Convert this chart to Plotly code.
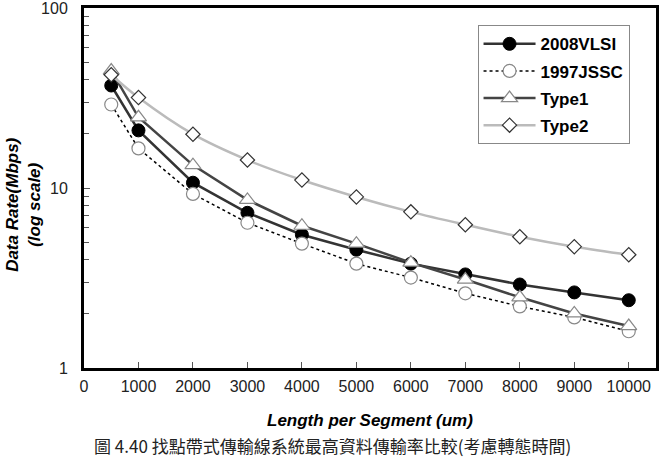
import plotly.graph_objects as go

lengths = [500, 1000, 2000, 3000, 4000, 5000, 6000, 7000, 8000, 9000, 10000]
vlsi2008 = [37.1, 20.9, 10.7, 7.28, 5.50, 4.54, 3.80, 3.31, 2.91, 2.63, 2.38]
jssc1997 = [29.1, 16.6, 9.27, 6.41, 4.91, 3.80, 3.18, 2.60, 2.20, 1.91, 1.60]
type1 = [44.9, 24.7, 13.4, 8.59, 6.17, 4.91, 3.85, 3.10, 2.47, 2.01, 1.71]
type2 = [42.6, 31.8, 19.9, 14.3, 11.07, 8.92, 7.37, 6.25, 5.36, 4.72, 4.26]

x_ticks = [0, 1000, 2000, 3000, 4000, 5000, 6000, 7000, 8000, 9000, 10000]
y_ticks = [1, 10, 100]
y_minor = [2, 3, 4, 5, 6, 7, 8, 9, 20, 30, 40, 50, 60, 70, 80, 90]
caption = "圖 4.40 找點帶式傳輸線系統最高資料傳輸率比較(考慮轉態時間)"

fig = go.Figure()
fig.add_trace(go.Scatter(
    x=lengths, y=vlsi2008, name="2008VLSI", mode="lines+markers", legendgroup="a",
    line=dict(color="#333333", width=2.5),
    marker=dict(symbol="circle", size=13, color="black", line=dict(color="black", width=1))))
fig.add_trace(go.Scatter(
    x=lengths, y=jssc1997, name="1997JSSC", mode="lines+markers", legendgroup="b",
    line=dict(color="black", width=1.5, dash="dot"),
    marker=dict(symbol="circle", size=13, color="white", line=dict(color="#888888", width=1.2))))
fig.add_trace(go.Scatter(
    x=lengths, y=type1, name="Type1", mode="lines+markers", legendgroup="c",
    line=dict(color="#444444", width=2.5),
    marker=dict(symbol="triangle-up", size=14, color="white", line=dict(color="#888888", width=1.2))))
fig.add_trace(go.Scatter(
    x=lengths, y=type2, name="Type2", mode="lines+markers", legendgroup="d",
    line=dict(color="#bbbbbb", width=2.5, shape="spline"),
    marker=dict(symbol="diamond", size=11, color="white", line=dict(color="#333333", width=1.2))))

sans = "Liberation Sans, Arial, sans-serif"
axis_font = dict(family=sans, size=16, color="#222222")

fig.update_layout(
    width=665, height=472,
    margin=dict(l=84, r=9, t=8, b=104),
    paper_bgcolor="white", plot_bgcolor="white",
    font=dict(family=sans, color="black"),
    showlegend=True,
    legend=dict(x=0.688, y=0.952, xanchor="left", yanchor="top",
                bgcolor="white", bordercolor="#888888", borderwidth=1,
                font=dict(family=sans, size=17, color="black", weight="bold"),
                tracegroupgap=2, itemwidth=52),
    xaxis=dict(range=[0, 10500], tickvals=x_ticks, ticktext=[str(v) for v in x_ticks],
               ticks="inside", ticklen=6, tickcolor="#555555", tickwidth=1,
               showgrid=False, zeroline=False, automargin=False,
               showline=True, linecolor="black", linewidth=3, mirror=True,
               tickfont=axis_font, ticklabelstandoff=2, ticklabeloverflow="allow"),
    yaxis=dict(type="log", range=[0, 2], tickvals=y_ticks, ticktext=["1", "10", "100"],
               ticks="inside", ticklen=6, tickcolor="#555555", tickwidth=1,
               minor=dict(tickvals=y_minor, ticks="inside", ticklen=5, tickcolor="#555555",
                          tickwidth=1, showgrid=False),
               showgrid=False, zeroline=False, automargin=False,
               showline=True, linecolor="black", linewidth=3, mirror=True,
               tickfont=axis_font, ticklabelstandoff=10, ticklabeloverflow="allow"),
    annotations=[
        dict(text="<b><i>Data Rate(Mbps)</i></b><br><b><i>(log scale)</i></b>",
             xref="paper", yref="paper", x=-0.105, y=0.453, xanchor="center", yanchor="middle",
             textangle=-90, showarrow=False,
             font=dict(family=sans, size=17, color="black")),
        dict(text="<b><i>Length per Segment (um)</i></b>",
             xref="paper", yref="paper", x=0.5, y=-0.146, xanchor="center", yanchor="middle",
             showarrow=False, font=dict(family=sans, size=17, color="black")),
        dict(text=caption, xref="paper", yref="paper", x=0.434, y=-0.215,
             xanchor="center", yanchor="middle", showarrow=False,
             font=dict(family="Noto Sans CJK TC, sans-serif", size=17, color="#222222")),
    ],
)

fig.write_html("out.html")
